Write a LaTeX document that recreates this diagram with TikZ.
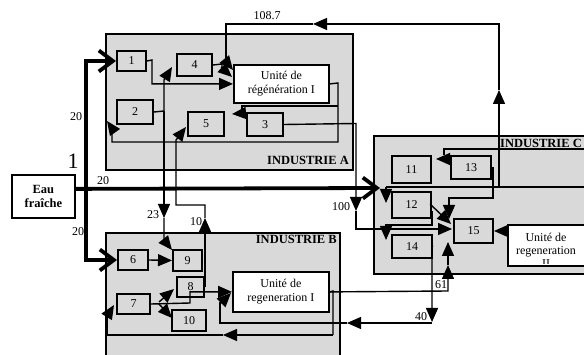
\documentclass[tikz,border=0pt]{standalone}
\usepackage{fontspec}
\setmainfont{Liberation Serif}
\usetikzlibrary{arrows.meta}
\begin{document}
\begin{tikzpicture}[x=1pt,y=-1pt,
  ind/.style={draw, line width=2pt, fill=gray!30, inner sep=0pt, anchor=north west},
  box/.style={draw, line width=2pt, fill=gray!30, inner sep=0pt, anchor=north west, font=\fontsize{12}{14}\selectfont},
  ubox/.style={draw, line width=1.8pt, fill=white, inner sep=0pt, anchor=north west, align=center, font=\fontsize{12}{14}\selectfont},
  conn/.style={line width=1.4pt},
  arr/.style={conn, -{Triangle[length=14pt,width=12pt]}},
  feed/.style={line width=3.8pt, -{Straight Barb[length=14pt,width=21pt]}},
  lbl/.style={font=\fontsize{12}{14}\selectfont, inner sep=0pt},
  indlbl/.style={font=\fontsize{12.5}{14}\selectfont\bfseries, inner sep=0pt}]
\useasboundingbox (0,0) rectangle (584,355);
\clip (0,0) rectangle (584,355);
% industry boxes
\node[ind, minimum width=247pt, minimum height=136pt] (indA) at (105,33) {};
\node[ind, minimum width=234pt, minimum height=130pt] (indB) at (105,232) {};
\node[ind, minimum width=230pt, minimum height=138pt] (indC) at (373,135) {};
\node[indlbl, anchor=east] at (349,160) {INDUSTRIE A};
\node[indlbl, anchor=east] at (337,239) {INDUSTRIE B};
\node[indlbl, anchor=west] at (500,143) {INDUSTRIE C};
% process boxes
\node[box, minimum width=29pt, minimum height=20pt] (n1) at (116,50) {1};
\node[box, minimum width=35pt, minimum height=22pt] (n4) at (176,53) {4};
\node[box, minimum width=36pt, minimum height=24pt] (n2) at (116,99) {2};
\node[box, minimum width=36pt, minimum height=24pt] (n5) at (187,111) {5};
\node[box, minimum width=36pt, minimum height=23pt] (n3) at (246,112) {3};
\node[ubox, minimum width=95pt, minimum height=38pt] (UA) at (233,64) {Unité de\\régénération I};
\node[box, minimum width=39pt, minimum height=27pt] (n11) at (391,155) {11};
\node[box, minimum width=40pt, minimum height=23pt] (n13) at (450,155) {13};
\node[box, minimum width=39pt, minimum height=26pt] (n12) at (391,191) {12};
\node[box, minimum width=40pt, minimum height=23pt] (n14) at (391,234) {14};
\node[box, minimum width=39pt, minimum height=24pt] (n15) at (453,218) {15};
\node[ubox, minimum width=78pt, minimum height=41pt] (UII) at (507,224) {};
\begin{scope}
  \clip (508,225) rectangle (584,264);
  \node[align=center, font=\fontsize{12}{13}\selectfont, inner sep=0pt] at (546,250) {Unité de\\regeneration\\II};
\end{scope}
\node[box, minimum width=30pt, minimum height=20pt] (n6) at (117,249) {6};
\node[box, minimum width=29pt, minimum height=21pt] (n9) at (172,249) {9};
\node[box, minimum width=27pt, minimum height=20pt] (n8) at (176,276) {8};
\node[box, minimum width=33pt, minimum height=20pt] (n7) at (116,293) {7};
\node[box, minimum width=34pt, minimum height=21pt] (n10) at (171,309) {10};
\node[ubox, minimum width=96pt, minimum height=40pt] (UB) at (232,271) {Unité de\\regeneration I};
\node[ubox, minimum width=63pt, minimum height=43pt, font=\fontsize{12.5}{14}\selectfont\bfseries] (eau) at (11,174) {Eau\\fraîche};
% fresh water feed
\draw[feed] (86,188) |- (n1.west);
\draw[feed] (86,188) |- (n6.west);
\draw[feed] ([yshift=7.5pt]eau.east) -- (380,188);
% Industrie A
\draw[arr] (n1.east) -- (152,60) |- (UA.west);
\draw[conn] (n4.east) -- (222,64) -- (222,68);
\draw[arr] (221,67) -- (232,77);
\draw[arr] (499,187) -- (499,90);
\draw[arr] (499,90) -- (499,24) -- (313,24);
\draw[conn] (313,24) -- (226,24) -- (226,62);
\draw[arr] (225,60) -- (233,70);
\draw[conn] (n2.east) -- (164,111);
\draw[arr] (164,111) -- (164,80) -- (172,67);
\draw[arr] (164,111) -- (164,218);
\draw[arr] (164,218) -- (164,240) -- (172,250);
\draw[arr] (n8.east) -- (205,286) -- (205,218);
\draw[arr] (205,218) -- (205,205) -- (176,205) -- (176,140) -- (186,127);
\draw[conn] (UA.east) -- (338,83) -- (338,142) -- (112,142) -- (112,128);
\draw[arr] (114,131) -- (107,121);
\draw[conn] (338,106) -- (242,106) -- (242,111);
\draw[arr] (246,113) -- (232,114);
\draw[arr] (n3.east) -- (356,123.5) -- (356,211);
\draw[arr] (356,211) -- (356,229) -- (452,229);
% Industrie C
\draw[conn] (590,187) -- (386,187);
\draw[arr] (386,187) -- (386,203);
\draw[arr] (430,204) -- (451,224);
\draw[arr] (n13.east) -| (493,198) -| (449,219);
\draw[arr] (430,212) -- (432,212) -- (432,225) -- (386,225) -- (386,240);
\draw[arr] (n14.east) -- (432,245.5) -- (432,322);
\draw[arr] (432,323) -- (347,323);
\draw[conn] (347,323) -- (220,323) -- (220,302);
\draw[arr] (220,304) -- (231,293);
\draw[arr] (UII.west |- n15.east) -- (n15.east);
\draw[conn] (590,149) -- (444,149) -- (444,155);
\draw[arr] (450,159) -- (436,159);
% Industrie B
\draw[arr] (n6.east) -- (n9.west);
\draw[arr] (n7.east) -- (190,303) |- (UB.west);
\draw[arr] (159,302) -- (174,289);
\draw[arr] (159,304) -- (172,318);
\draw[conn] (UB.east) -- (333,291) -- (333,335);
\draw[arr] (333,335) -- (223,335);
\draw[conn] (223,335) -- (107,335) -- (107,316);
\draw[arr] (106,318) -- (114,305);
\draw[arr] (UB.east) -- (448,291) -- (448,265);
\draw[arr] (448,265) -- (448,242);
% labels
\node[lbl] at (76,117) {20};
\node[lbl] at (103,181) {20};
\node[lbl] at (78,232) {20};
\node[lbl, font=\fontsize{22}{22}\selectfont] at (73,161) {1};
\node[lbl] at (267,16) {108.7};
\node[lbl] at (153,215) {23};
\node[lbl] at (196,222) {10};
\node[lbl] at (341,207) {100};
\node[lbl] at (441,285) {61};
\node[lbl] at (421,317) {40};
\end{tikzpicture}
\end{document}
